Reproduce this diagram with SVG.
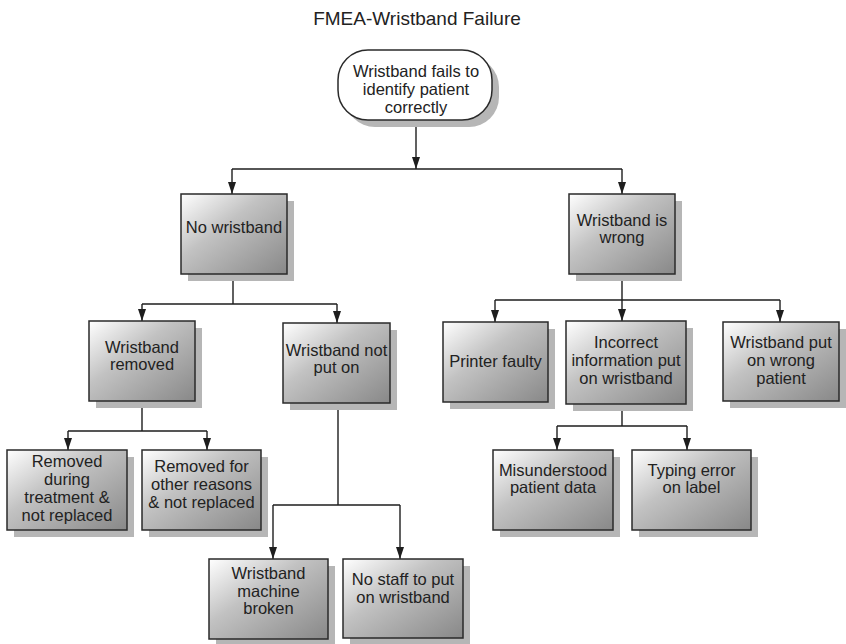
<svg xmlns="http://www.w3.org/2000/svg" width="846" height="644" viewBox="0 0 846 644">
<defs>
<linearGradient id="g" x1="0" y1="0" x2="1" y2="1">
<stop offset="0" stop-color="#ffffff"/>
<stop offset="0.4" stop-color="#c2c2c2"/>
<stop offset="1" stop-color="#888888"/>
</linearGradient>
<marker id="a" viewBox="0 0 12 8" refX="12" refY="4" markerUnits="userSpaceOnUse" markerWidth="12" markerHeight="8" orient="auto">
<path d="M0,0 L12,4 L0,8 z" fill="#1e1e1e"/>
</marker>
<style>
.sh{fill:#b6b6b6;stroke:none}
.bx{fill:url(#g);stroke:#2a2a2a;stroke-width:1.5}
.rd{fill:#ffffff;stroke:#2a2a2a;stroke-width:1.5}
text{font-family:"Liberation Sans",Arial,sans-serif;font-size:16.5px;fill:#222;text-anchor:middle}
.t{font-size:19px}
.c{fill:none;stroke:#1e1e1e;stroke-width:1.4}
.ar{marker-end:url(#a)}
</style>
</defs>
<rect width="846" height="644" fill="#ffffff"/>
<text class="t" x="417" y="25">FMEA-Wristband Failure</text>

<g id="connectors">
<path class="c ar" d="M416,120 V169"/>
<path class="c" d="M232,169 H622"/>
<path class="c ar" d="M232,169 V194"/>
<path class="c ar" d="M622,169 V194"/>

<path class="c" d="M233,274 V304 M142,304 H337"/>
<path class="c ar" d="M142,304 V321"/>
<path class="c ar" d="M337,304 V323"/>

<path class="c" d="M622,274 V300 M495,300 H780"/>
<path class="c ar" d="M495,300 V322"/>
<path class="c ar" d="M622,300 V321"/>
<path class="c ar" d="M780,300 V322"/>

<path class="c" d="M142,401 V431 M68,431 H207"/>
<path class="c ar" d="M68,431 V450"/>
<path class="c ar" d="M207,431 V450"/>

<path class="c" d="M338,403 V505 M273,505 H400"/>
<path class="c ar" d="M273,505 V559"/>
<path class="c ar" d="M400,505 V559"/>

<path class="c" d="M622,404 V426 M557,426 H687"/>
<path class="c ar" d="M557,426 V450"/>
<path class="c ar" d="M687,426 V450"/>
</g>

<g id="n0">
<rect class="sh" x="345" y="57" width="154" height="70" rx="30"/>
<rect class="rd" x="338" y="50" width="154" height="70" rx="30"/>
<text x="416" y="77">Wristband fails to</text>
<text x="416" y="95">identify patient</text>
<text x="416" y="113">correctly</text>
</g>

<g id="n1">
<rect class="sh" x="188" y="201" width="106" height="80"/>
<rect class="bx" x="181" y="194" width="106" height="80"/>
<text x="234" y="233">No wristband</text>
</g>

<g id="n2">
<rect class="sh" x="576" y="201" width="106" height="80"/>
<rect class="bx" x="569" y="194" width="106" height="80"/>
<text x="622" y="226">Wristband is</text>
<text x="622" y="243">wrong</text>
</g>

<g id="n3">
<rect class="sh" x="96" y="328" width="106" height="80"/>
<rect class="bx" x="89" y="321" width="106" height="80"/>
<text x="142" y="353">Wristband</text>
<text x="142" y="370">removed</text>
</g>

<g id="n4">
<rect class="sh" x="290" y="330" width="107" height="80"/>
<rect class="bx" x="283" y="323" width="107" height="80"/>
<text x="336.5" y="356">Wristband not</text>
<text x="336.5" y="373">put on</text>
</g>

<g id="n5">
<rect class="sh" x="450" y="329" width="105" height="80"/>
<rect class="bx" x="443" y="322" width="105" height="80"/>
<text x="495.5" y="367">Printer faulty</text>
</g>

<g id="n6">
<rect class="sh" x="573" y="328" width="120" height="83"/>
<rect class="bx" x="566" y="321" width="120" height="83"/>
<text x="626" y="348">Incorrect</text>
<text x="626" y="366">information put</text>
<text x="626" y="384">on wristband</text>
</g>

<g id="n7">
<rect class="sh" x="730" y="329" width="116" height="79"/>
<rect class="bx" x="723" y="322" width="116" height="79"/>
<text x="781" y="348">Wristband put</text>
<text x="781" y="366">on wrong</text>
<text x="781" y="384">patient</text>
</g>

<g id="n8">
<rect class="sh" x="14" y="457" width="120" height="80"/>
<rect class="bx" x="7" y="450" width="120" height="80"/>
<text x="67" y="467">Removed</text>
<text x="67" y="485">during</text>
<text x="67" y="503">treatment &amp;</text>
<text x="67" y="521">not replaced</text>
</g>

<g id="n9">
<rect class="sh" x="149" y="457" width="119" height="80"/>
<rect class="bx" x="142" y="450" width="119" height="80"/>
<text x="201.5" y="472">Removed for</text>
<text x="201.5" y="490">other reasons</text>
<text x="201.5" y="508">&amp; not replaced</text>
</g>

<g id="n10">
<rect class="sh" x="216" y="566" width="119" height="80"/>
<rect class="bx" x="209" y="559" width="119" height="80"/>
<text x="268.5" y="579">Wristband</text>
<text x="268.5" y="597">machine</text>
<text x="268.5" y="614">broken</text>
</g>

<g id="n11">
<rect class="sh" x="350" y="566" width="120" height="79"/>
<rect class="bx" x="343" y="559" width="120" height="79"/>
<text x="403" y="585">No staff to put</text>
<text x="403" y="603">on wristband</text>
</g>

<g id="n12">
<rect class="sh" x="500" y="457" width="120" height="80"/>
<rect class="bx" x="493" y="450" width="120" height="80"/>
<text x="553" y="476">Misunderstood</text>
<text x="553" y="493">patient data</text>
</g>

<g id="n13">
<rect class="sh" x="639" y="457" width="119" height="80"/>
<rect class="bx" x="632" y="450" width="119" height="80"/>
<text x="691.5" y="476">Typing error</text>
<text x="691.5" y="493">on label</text>
</g>
</svg>
